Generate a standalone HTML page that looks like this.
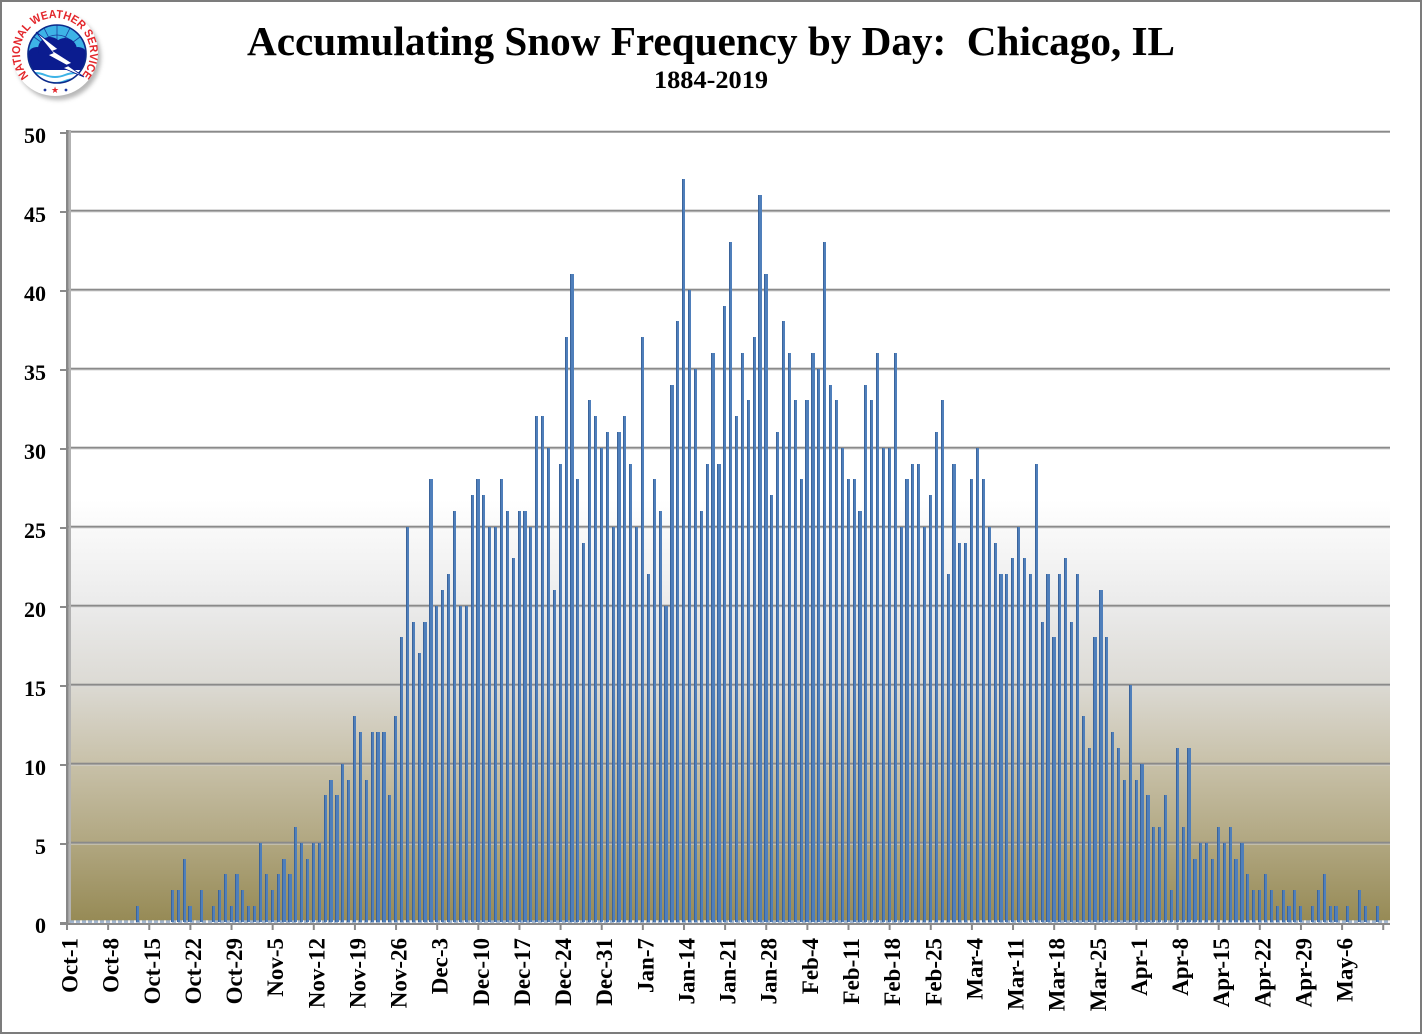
<!DOCTYPE html>
<html>
<head>
<meta charset="utf-8">
<style>
html,body{margin:0;padding:0;background:#fff;}
#wrap{position:relative;width:1424px;height:1035px;overflow:hidden;background:#fff;}
#frame{position:absolute;left:0;top:0;width:1422px;height:1034px;box-sizing:border-box;border:2.5px solid #7c7c7c;}
svg{position:absolute;left:0;top:0;}
#bars{position:absolute;left:63.66px;top:131.7px;width:1322.3px;height:790px;display:grid;grid-template-columns:repeat(225,1fr);align-items:end;justify-items:center;}
#bars i{display:block;width:3.2px;height:calc(var(--v)*15.8px);background:linear-gradient(to right,#3b649b 0,#3b649b 30%,#4f7fbb 30%,#4f7fbb 100%);}
</style>
</head>
<body>
<div id="wrap">
<svg width="1424" height="1035" viewBox="0 0 1424 1035" xmlns="http://www.w3.org/2000/svg">
  <defs>
    <linearGradient id="bg" x1="0" y1="0" x2="0" y2="1">
      <stop offset="0" stop-color="#ffffff"/>
      <stop offset="0.466" stop-color="#ffffff"/>
      <stop offset="0.504" stop-color="#f9f9f9"/>
      <stop offset="0.599" stop-color="#ebebeb"/>
      <stop offset="0.699" stop-color="#dcdad4"/>
      <stop offset="0.799" stop-color="#c8c1a9"/>
      <stop offset="0.899" stop-color="#b1a781"/>
      <stop offset="1" stop-color="#968a55"/>
    </linearGradient>
    <pattern id="floorpat" patternUnits="userSpaceOnUse" x="70" y="0" width="6" height="4">
      <rect x="0" y="0" width="4" height="4" fill="#9fb3cc"/>
      <rect x="4" y="0" width="2" height="4" fill="#f4f4f4"/>
    </pattern>
    <pattern id="tickpat" patternUnits="userSpaceOnUse" x="66" y="0" width="41.132" height="10">
      <rect x="0" y="0" width="2" height="10" fill="#8a8a8a"/>
    </pattern>
    <clipPath id="inner"><circle cx="57" cy="54" r="29"/></clipPath>
    <filter id="blur" x="-20%" y="-20%" width="140%" height="140%"><feGaussianBlur stdDeviation="2"/></filter>
  </defs>

  <!-- Logo -->
  <circle cx="58" cy="57" r="43" fill="#9a9a9a" filter="url(#blur)" opacity="0.7"/>
  <circle cx="55" cy="53" r="43" fill="#ffffff"/>
  <path id="arc" d="M 30.3 77.7 A 35 35 0 1 1 79.7 77.7" fill="none"/>
  <text font-family="Liberation Sans, sans-serif" font-weight="bold" font-size="11.5" fill="#e3262b">
    <textPath href="#arc" startOffset="2" textLength="160" lengthAdjust="spacingAndGlyphs">NATIONAL WEATHER SERVICE</textPath>
  </text>
  <circle cx="45" cy="90" r="1.4" fill="#1f3aa0"/>
  <text x="55" y="93" font-family="DejaVu Sans, sans-serif" font-size="9" fill="#e3262b" text-anchor="middle">★</text>
  <circle cx="66" cy="90" r="1.4" fill="#1f3aa0"/>
  <g clip-path="url(#inner)">
    <rect x="25" y="22" width="65" height="65" fill="#3db3e6"/>
    <g stroke="#1b3c9e" stroke-width="0.8">
      <line x1="57" y1="54" x2="30" y2="34"/>
      <line x1="57" y1="54" x2="42" y2="24"/>
      <line x1="57" y1="54" x2="57" y2="22"/>
      <line x1="57" y1="54" x2="72" y2="24"/>
      <line x1="57" y1="54" x2="84" y2="34"/>
    </g>
    <circle cx="57" cy="54" r="19" fill="none" stroke="#1b3c9e" stroke-width="0.8"/>
    <rect x="25" y="69" width="65" height="20" fill="#ffffff"/>
    <path d="M25 75 Q35 71 45 75 T65 75 T90 75" fill="none" stroke="#3db3e6" stroke-width="2"/>
    <path d="M25 81 Q35 77 45 81 T65 81 T90 81" fill="none" stroke="#3db3e6" stroke-width="2"/>
    <g fill="#0b1c8f">
      <circle cx="37" cy="57" r="10"/>
      <circle cx="50" cy="49" r="12"/>
      <circle cx="65" cy="50" r="12"/>
      <circle cx="78" cy="57" r="10"/>
      <rect x="28" y="55" width="60" height="15" rx="5"/>
    </g>
  </g>
  <circle cx="57" cy="54" r="29" fill="none" stroke="#0c2a8a" stroke-width="1.6"/>
  <path d="M36 32 L58 49 L53 51 L72 63 L67 65 L84 77 L63 68 L68 66 L48 55 L53 53 Z" fill="#ffffff" stroke="#0b1c8f" stroke-width="0.8"/>

  <!-- Titles -->
  <text x="711" y="55" text-anchor="middle" font-family="Liberation Serif, serif" font-weight="bold" font-size="41" textLength="928" lengthAdjust="spacingAndGlyphs" style="white-space:pre">Accumulating Snow Frequency by Day:  Chicago, IL</text>
  <text x="711" y="88" text-anchor="middle" font-family="Liberation Serif, serif" font-weight="bold" font-size="25" textLength="114" lengthAdjust="spacingAndGlyphs">1884-2019</text>

  <!-- Plot background -->
  <rect x="71" y="131.7" width="1319" height="790" fill="url(#bg)"/>

  <!-- Gridlines -->
  <g fill="#8a8a8a">
    <rect x="68" y="130.7" width="1322" height="2"/>
    <rect x="68" y="209.7" width="1322" height="2"/>
    <rect x="68" y="288.7" width="1322" height="2"/>
    <rect x="68" y="367.7" width="1322" height="2"/>
    <rect x="68" y="446.7" width="1322" height="2"/>
    <rect x="68" y="525.7" width="1322" height="2"/>
    <rect x="68" y="604.7" width="1322" height="2"/>
    <rect x="68" y="683.7" width="1322" height="2"/>
    <rect x="68" y="762.7" width="1322" height="2"/>
    <rect x="68" y="841.7" width="1322" height="2"/>
  </g>
  <g fill="#d6d6d6" opacity="0.7">
    <rect x="71" y="211.7" width="1319" height="1"/>
    <rect x="71" y="290.7" width="1319" height="1"/>
    <rect x="71" y="369.7" width="1319" height="1"/>
    <rect x="71" y="448.7" width="1319" height="1"/>
    <rect x="71" y="527.7" width="1319" height="1"/>
    <rect x="71" y="606.7" width="1319" height="1"/>
    <rect x="71" y="685.7" width="1319" height="1"/>
    <rect x="71" y="764.7" width="1319" height="1"/>
    <rect x="71" y="843.7" width="1319" height="1"/>
  </g>

  <!-- Y ticks -->
  <g fill="#8a8a8a">
    <rect x="60" y="132" width="6" height="2"/>
    <rect x="60" y="211" width="6" height="2"/>
    <rect x="60" y="290" width="6" height="2"/>
    <rect x="60" y="369" width="6" height="2"/>
    <rect x="60" y="448" width="6" height="2"/>
    <rect x="60" y="527" width="6" height="2"/>
    <rect x="60" y="606" width="6" height="2"/>
    <rect x="60" y="685" width="6" height="2"/>
    <rect x="60" y="764" width="6" height="2"/>
    <rect x="60" y="843" width="6" height="2"/>
    <rect x="60" y="922" width="6" height="2"/>
  </g>

  <!-- Left wall -->
  <rect x="66" y="130" width="2.7" height="794" fill="#888888"/>
  <rect x="68.7" y="130" width="2.3" height="794" fill="#b2b2b2"/>

  <!-- Floor and x axis -->
  <rect x="70" y="920.3" width="1320" height="2.6" fill="url(#floorpat)"/>
  <rect x="60" y="923" width="1330" height="2" fill="#8a8a8a"/>
  <rect x="66" y="924" width="1319" height="6" fill="url(#tickpat)"/>

  <!-- Y labels -->
  <g font-family="Liberation Serif, serif" font-weight="bold" font-size="22" text-anchor="end" fill="#000">
    <text x="46" y="143">50</text>
    <text x="46" y="222">45</text>
    <text x="46" y="301">40</text>
    <text x="46" y="380">35</text>
    <text x="46" y="459">30</text>
    <text x="46" y="538">25</text>
    <text x="46" y="617">20</text>
    <text x="46" y="696">15</text>
    <text x="46" y="775">10</text>
    <text x="46" y="854">5</text>
    <text x="46" y="933">0</text>
  </g>

  <!-- X labels -->
  <g font-family="Liberation Serif, serif" font-weight="bold" font-size="23" text-anchor="end" fill="#000">
    <text transform="translate(77.5,938) rotate(-90)">Oct-1</text>
    <text transform="translate(118.6,938) rotate(-90)">Oct-8</text>
    <text transform="translate(159.8,938) rotate(-90)">Oct-15</text>
    <text transform="translate(200.9,938) rotate(-90)">Oct-22</text>
    <text transform="translate(242.0,938) rotate(-90)">Oct-29</text>
    <text transform="translate(283.2,938) rotate(-90)">Nov-5</text>
    <text transform="translate(324.3,938) rotate(-90)">Nov-12</text>
    <text transform="translate(365.4,938) rotate(-90)">Nov-19</text>
    <text transform="translate(406.6,938) rotate(-90)">Nov-26</text>
    <text transform="translate(447.7,938) rotate(-90)">Dec-3</text>
    <text transform="translate(488.8,938) rotate(-90)">Dec-10</text>
    <text transform="translate(530.0,938) rotate(-90)">Dec-17</text>
    <text transform="translate(571.1,938) rotate(-90)">Dec-24</text>
    <text transform="translate(612.2,938) rotate(-90)">Dec-31</text>
    <text transform="translate(653.4,938) rotate(-90)">Jan-7</text>
    <text transform="translate(694.5,938) rotate(-90)">Jan-14</text>
    <text transform="translate(735.6,938) rotate(-90)">Jan-21</text>
    <text transform="translate(776.7,938) rotate(-90)">Jan-28</text>
    <text transform="translate(817.9,938) rotate(-90)">Feb-4</text>
    <text transform="translate(859.0,938) rotate(-90)">Feb-11</text>
    <text transform="translate(900.1,938) rotate(-90)">Feb-18</text>
    <text transform="translate(941.3,938) rotate(-90)">Feb-25</text>
    <text transform="translate(982.4,938) rotate(-90)">Mar-4</text>
    <text transform="translate(1023.5,938) rotate(-90)">Mar-11</text>
    <text transform="translate(1064.7,938) rotate(-90)">Mar-18</text>
    <text transform="translate(1105.8,938) rotate(-90)">Mar-25</text>
    <text transform="translate(1146.9,938) rotate(-90)">Apr-1</text>
    <text transform="translate(1188.1,938) rotate(-90)">Apr-8</text>
    <text transform="translate(1229.2,938) rotate(-90)">Apr-15</text>
    <text transform="translate(1270.3,938) rotate(-90)">Apr-22</text>
    <text transform="translate(1311.5,938) rotate(-90)">Apr-29</text>
    <text transform="translate(1352.6,938) rotate(-90)">May-6</text>
  </g>
</svg>

<div id="bars">
<i style="--v:0"></i><i style="--v:0"></i><i style="--v:0"></i><i style="--v:0"></i><i style="--v:0"></i><i style="--v:0"></i><i style="--v:0"></i><i style="--v:0"></i><i style="--v:0"></i><i style="--v:0"></i><i style="--v:0"></i><i style="--v:0"></i>
<i style="--v:1"></i><i style="--v:0"></i><i style="--v:0"></i><i style="--v:0"></i><i style="--v:0"></i><i style="--v:0"></i>
<i style="--v:2"></i><i style="--v:2"></i><i style="--v:4"></i><i style="--v:1"></i><i style="--v:0"></i><i style="--v:2"></i><i style="--v:0"></i><i style="--v:1"></i><i style="--v:2"></i><i style="--v:3"></i><i style="--v:1"></i><i style="--v:3"></i><i style="--v:2"></i><i style="--v:1"></i><i style="--v:1"></i>
<i style="--v:5"></i><i style="--v:3"></i><i style="--v:2"></i><i style="--v:3"></i><i style="--v:4"></i><i style="--v:3"></i><i style="--v:6"></i><i style="--v:5"></i><i style="--v:4"></i><i style="--v:5"></i><i style="--v:5"></i><i style="--v:8"></i><i style="--v:9"></i><i style="--v:8"></i><i style="--v:10"></i><i style="--v:9"></i><i style="--v:13"></i><i style="--v:12"></i><i style="--v:9"></i><i style="--v:12"></i><i style="--v:12"></i><i style="--v:12"></i><i style="--v:8"></i><i style="--v:13"></i>
<i style="--v:18"></i><i style="--v:25"></i><i style="--v:19"></i><i style="--v:17"></i><i style="--v:19"></i><i style="--v:28"></i><i style="--v:20"></i><i style="--v:21"></i><i style="--v:22"></i><i style="--v:26"></i><i style="--v:20"></i><i style="--v:20"></i><i style="--v:27"></i><i style="--v:28"></i><i style="--v:27"></i><i style="--v:25"></i><i style="--v:25"></i><i style="--v:28"></i><i style="--v:26"></i><i style="--v:23"></i><i style="--v:26"></i><i style="--v:26"></i><i style="--v:25"></i><i style="--v:32"></i><i style="--v:32"></i><i style="--v:30"></i><i style="--v:21"></i><i style="--v:29"></i><i style="--v:37"></i><i style="--v:41"></i><i style="--v:28"></i><i style="--v:24"></i><i style="--v:33"></i><i style="--v:32"></i><i style="--v:30"></i><i style="--v:31"></i><i style="--v:25"></i><i style="--v:31"></i><i style="--v:32"></i><i style="--v:29"></i><i style="--v:25"></i><i style="--v:37"></i><i style="--v:22"></i><i style="--v:28"></i><i style="--v:26"></i><i style="--v:20"></i><i style="--v:34"></i><i style="--v:38"></i><i style="--v:47"></i><i style="--v:40"></i><i style="--v:35"></i><i style="--v:26"></i><i style="--v:29"></i><i style="--v:36"></i><i style="--v:29"></i><i style="--v:39"></i><i style="--v:43"></i><i style="--v:32"></i>
<i style="--v:36"></i><i style="--v:33"></i><i style="--v:37"></i><i style="--v:46"></i><i style="--v:41"></i><i style="--v:27"></i><i style="--v:31"></i><i style="--v:38"></i><i style="--v:36"></i><i style="--v:33"></i><i style="--v:28"></i><i style="--v:33"></i><i style="--v:36"></i><i style="--v:35"></i><i style="--v:43"></i><i style="--v:34"></i><i style="--v:33"></i><i style="--v:30"></i><i style="--v:28"></i><i style="--v:28"></i><i style="--v:26"></i><i style="--v:34"></i><i style="--v:33"></i><i style="--v:36"></i><i style="--v:30"></i><i style="--v:30"></i><i style="--v:36"></i><i style="--v:25"></i><i style="--v:28"></i><i style="--v:29"></i><i style="--v:29"></i><i style="--v:25"></i><i style="--v:27"></i><i style="--v:31"></i><i style="--v:33"></i><i style="--v:22"></i><i style="--v:29"></i><i style="--v:24"></i><i style="--v:24"></i><i style="--v:28"></i><i style="--v:30"></i><i style="--v:28"></i><i style="--v:25"></i><i style="--v:24"></i><i style="--v:22"></i><i style="--v:22"></i><i style="--v:23"></i><i style="--v:25"></i><i style="--v:23"></i><i style="--v:22"></i><i style="--v:29"></i><i style="--v:19"></i><i style="--v:22"></i><i style="--v:18"></i><i style="--v:22"></i><i style="--v:23"></i><i style="--v:19"></i><i style="--v:22"></i>
<i style="--v:13"></i><i style="--v:11"></i><i style="--v:18"></i><i style="--v:21"></i><i style="--v:18"></i><i style="--v:12"></i><i style="--v:11"></i><i style="--v:9"></i><i style="--v:15"></i><i style="--v:9"></i><i style="--v:10"></i><i style="--v:8"></i><i style="--v:6"></i><i style="--v:6"></i><i style="--v:8"></i><i style="--v:2"></i><i style="--v:11"></i><i style="--v:6"></i><i style="--v:11"></i><i style="--v:4"></i><i style="--v:5"></i><i style="--v:5"></i><i style="--v:4"></i><i style="--v:6"></i><i style="--v:5"></i><i style="--v:6"></i><i style="--v:4"></i><i style="--v:5"></i><i style="--v:3"></i><i style="--v:2"></i><i style="--v:2"></i><i style="--v:3"></i><i style="--v:2"></i><i style="--v:1"></i><i style="--v:2"></i><i style="--v:1"></i><i style="--v:2"></i><i style="--v:1"></i><i style="--v:0"></i><i style="--v:1"></i><i style="--v:2"></i><i style="--v:3"></i><i style="--v:1"></i><i style="--v:1"></i><i style="--v:0"></i><i style="--v:1"></i><i style="--v:0"></i><i style="--v:2"></i><i style="--v:1"></i><i style="--v:0"></i><i style="--v:1"></i><i style="--v:0"></i>
</div>

<div id="frame"></div>
</div>
</body>
</html>
